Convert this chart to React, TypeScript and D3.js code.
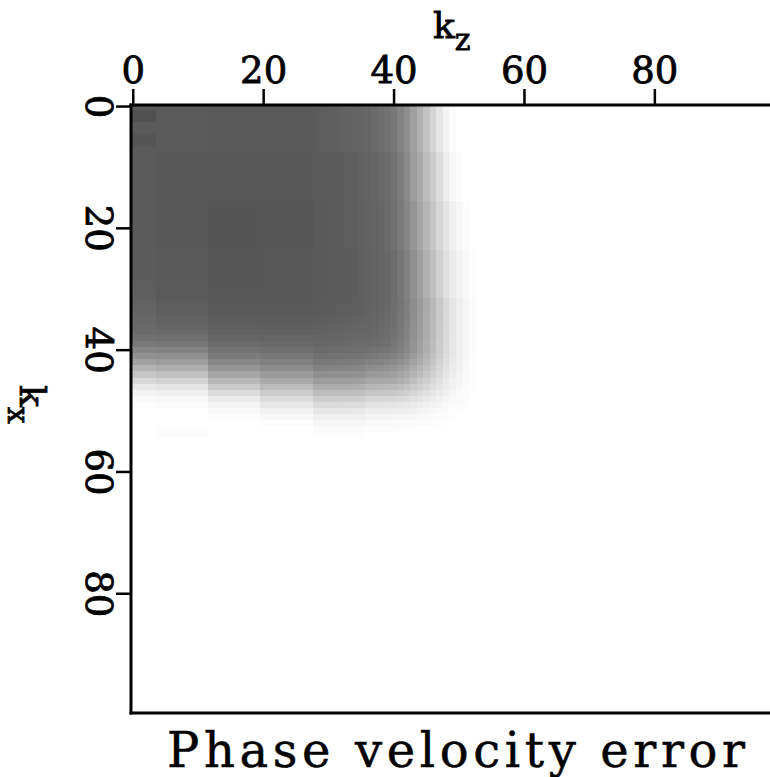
import React, { useMemo } from "react";
import * as d3 from "d3";

const W = 770;
const H = 777;

// axis ticks
const kzTicks = [0, 20, 40, 60, 80];
const kxTicks = [0, 20, 40, 60, 80];
const nKz = 100;
const nKx = 100;

// plateau grey levels (rows: kx blocks, cols: kz blocks)
const plateauKzStarts = [0, 4, 12, 20, 28];
const plateauKxStarts = [0, 8, 16, 24];
const plateauGray = [
  [0x5a, 0x5a, 0x59, 0x59, 0x5c],
  [0x5b, 0x58, 0x58, 0x58, 0x5a],
  [0x5b, 0x58, 0x55, 0x56, 0x59],
  [0x5c, 0x59, 0x56, 0x57, 0x59],
];

// right-edge fall-off, grey along kz = 28..55, one row per kx block of 8
const rightEdgeKz0 = 28;
const rightEdgeKxStarts = [0, 8, 16, 24, 32, 40, 48];
const rightEdgeGray = [
  [0x5c, 0x5d, 0x5e, 0x5f, 0x61, 0x62, 0x63, 0x64, 0x66, 0x6a, 0x6e, 0x72, 0x78, 0x83, 0x8f, 0xa0, 0xb2, 0xc3, 0xd5, 0xe6, 0xf3, 0xfb, 0xfe, 0xff, 0xff, 0xff, 0xff, 0xff],
  [0x5a, 0x5a, 0x5b, 0x5c, 0x5d, 0x5e, 0x5f, 0x61, 0x63, 0x66, 0x68, 0x6c, 0x72, 0x7c, 0x8a, 0x9c, 0xaa, 0xbc, 0xcc, 0xdc, 0xec, 0xf6, 0xfc, 0xff, 0xff, 0xff, 0xff, 0xff],
  [0x59, 0x59, 0x5a, 0x5b, 0x5c, 0x5d, 0x5e, 0x60, 0x62, 0x64, 0x66, 0x6a, 0x70, 0x7a, 0x86, 0x96, 0xa6, 0xb6, 0xc6, 0xd6, 0xe4, 0xef, 0xf7, 0xfc, 0xff, 0xff, 0xff, 0xff],
  [0x59, 0x59, 0x5a, 0x5a, 0x5b, 0x5c, 0x5d, 0x5f, 0x61, 0x63, 0x65, 0x68, 0x6d, 0x76, 0x82, 0x90, 0xa0, 0xb0, 0xc0, 0xd0, 0xdf, 0xea, 0xf3, 0xf9, 0xfd, 0xff, 0xff, 0xff],
  [0x59, 0x59, 0x5a, 0x5a, 0x5b, 0x5c, 0x5d, 0x5e, 0x60, 0x62, 0x64, 0x67, 0x6c, 0x74, 0x7e, 0x8c, 0x9a, 0xa8, 0xb8, 0xc8, 0xd8, 0xe4, 0xee, 0xf6, 0xfb, 0xfe, 0xff, 0xff],
  [0x59, 0x59, 0x5a, 0x5a, 0x5b, 0x5c, 0x5d, 0x5e, 0x60, 0x62, 0x64, 0x67, 0x6b, 0x72, 0x7c, 0x8a, 0x98, 0xa6, 0xb6, 0xc6, 0xd6, 0xe3, 0xed, 0xf5, 0xfb, 0xfe, 0xff, 0xff],
  [0x59, 0x59, 0x5a, 0x5a, 0x5b, 0x5c, 0x5d, 0x5e, 0x60, 0x62, 0x64, 0x67, 0x6b, 0x72, 0x7c, 0x8a, 0x98, 0xa6, 0xb6, 0xc6, 0xd6, 0xe3, 0xed, 0xf5, 0xfb, 0xfe, 0xff, 0xff],
];

// bottom-edge fall-off, grey along kx = 28..57, one row per kz block
const bottomEdgeKx0 = 28;
const bottomEdgeKzStarts = [0, 4, 12, 20, 28, 36, 44, 52];
const bottomEdgeGray = [
  [0x5d, 0x5e, 0x5f, 0x60, 0x62, 0x64, 0x66, 0x68, 0x6a, 0x6c, 0x72, 0x7a, 0x86, 0x92, 0xa2, 0xb4, 0xc6, 0xd8, 0xe8, 0xf4, 0xfa, 0xfd, 0xff, 0xff, 0xff, 0xff, 0xff, 0xff, 0xff, 0xff],
  [0x5a, 0x5b, 0x5b, 0x5b, 0x5d, 0x5f, 0x61, 0x63, 0x66, 0x6a, 0x70, 0x78, 0x84, 0x90, 0x9e, 0xae, 0xc0, 0xd2, 0xe4, 0xf0, 0xf8, 0xfc, 0xfe, 0xff, 0xff, 0xfd, 0xfc, 0xff, 0xff, 0xff],
  [0x57, 0x57, 0x58, 0x58, 0x59, 0x5a, 0x5c, 0x5e, 0x60, 0x63, 0x67, 0x6c, 0x74, 0x7c, 0x88, 0x96, 0xa6, 0xb8, 0xca, 0xdc, 0xea, 0xf4, 0xfa, 0xfd, 0xff, 0xff, 0xff, 0xff, 0xff, 0xff],
  [0x57, 0x57, 0x57, 0x57, 0x58, 0x59, 0x5a, 0x5c, 0x5e, 0x61, 0x65, 0x69, 0x6f, 0x77, 0x80, 0x8c, 0x9a, 0xaa, 0xbc, 0xcc, 0xdc, 0xe8, 0xf2, 0xf8, 0xfc, 0xff, 0xfe, 0xff, 0xff, 0xff],
  [0x59, 0x59, 0x59, 0x59, 0x5a, 0x5b, 0x5c, 0x5e, 0x60, 0x62, 0x64, 0x67, 0x6b, 0x71, 0x79, 0x83, 0x8f, 0x9d, 0xad, 0xbd, 0xcd, 0xdb, 0xe7, 0xf0, 0xf6, 0xfa, 0xfd, 0xff, 0xff, 0xff],
  [0x5c, 0x5c, 0x5c, 0x5c, 0x5d, 0x5e, 0x5f, 0x60, 0x61, 0x62, 0x64, 0x67, 0x6c, 0x74, 0x7e, 0x8a, 0x96, 0xa4, 0xb4, 0xc4, 0xd4, 0xe2, 0xec, 0xf4, 0xf9, 0xfc, 0xfe, 0xff, 0xff, 0xff],
  [0x5c, 0x5c, 0x5c, 0x5c, 0x5d, 0x5e, 0x5f, 0x60, 0x61, 0x62, 0x64, 0x67, 0x6c, 0x74, 0x7e, 0x8a, 0x98, 0xa6, 0xb6, 0xc6, 0xd6, 0xe3, 0xed, 0xf5, 0xfa, 0xfd, 0xff, 0xff, 0xff, 0xff],
  [0x5c, 0x5c, 0x5c, 0x5c, 0x5d, 0x5e, 0x5f, 0x60, 0x61, 0x62, 0x64, 0x67, 0x6c, 0x74, 0x7e, 0x8a, 0x98, 0xa6, 0xb6, 0xc6, 0xd6, 0xe3, 0xed, 0xf5, 0xfa, 0xfd, 0xff, 0xff, 0xff, 0xff],
];

// small darker patches near the origin
const spotKzRange = [[0, 3], [0, 3]];
const spotKxRange = [[1, 2], [5, 6]];
const spotGray = [0x50, 0x55];

function blockIndex(starts: number[], v: number) {
  let i = 0;
  for (let k = 0; k < starts.length; k++) if (starts[k] <= v) i = k;
  return i;
}

function cellGray(kz: number, kx: number): number {
  for (let s = 0; s < spotGray.length; s++) {
    if (kz >= spotKzRange[s][0] && kz <= spotKzRange[s][1] && kx >= spotKxRange[s][0] && kx <= spotKxRange[s][1]) return spotGray[s];
  }
  const base = plateauGray[blockIndex(plateauKxStarts, kx)][blockIndex(plateauKzStarts, kz)];
  const dP = (255 - base) / 170;
  let fR = 1;
  if (kz >= rightEdgeKz0) {
    const prof = rightEdgeGray[blockIndex(rightEdgeKxStarts, kx)];
    const i = kz - rightEdgeKz0;
    const g = i < prof.length ? prof[i] : 255;
    fR = (255 - g) / (255 - prof[0]);
  }
  let fB = 1;
  if (kx >= bottomEdgeKx0) {
    const prof = bottomEdgeGray[blockIndex(bottomEdgeKzStarts, kz)];
    const i = kx - bottomEdgeKx0;
    const g = i < prof.length ? prof[i] : 255;
    fB = (255 - g) / (255 - prof[0]);
  }
  return Math.round(255 - 170 * dP * fR * fB);
}

export default function App() {
  const x = d3.scaleLinear().domain([-0.5, nKz - 0.5]).range([130, 782]);
  const y = d3.scaleLinear().domain([-0.5, nKx - 0.5]).range([103.5, 712.5]);

  const cells = useMemo(() => {
    const out: { x: number; y: number; w: number; h: number; c: string }[] = [];
    for (let kx = 0; kx < nKx; kx++) {
      for (let kz = 0; kz < nKz; kz++) {
        const g = cellGray(kz, kx);
        if (g >= 254) continue;
        const x0 = Math.round(x(kz - 0.5));
        const x1 = Math.round(x(kz + 0.5));
        const y0 = Math.round(y(kx - 0.5));
        const y1 = Math.round(y(kx + 0.5));
        out.push({ x: x0, y: y0, w: x1 - x0, h: y1 - y0, c: d3.rgb(g, g, g).formatHex() });
      }
    }
    return out;
  }, []);

  const font = "'DejaVu Serif', serif";
  const top = 105;
  const left = 131;
  const bottom = 713;
  const heavy = { stroke: "#000", strokeWidth: 0.8 };

  return (
    <svg width={W} height={H} style={{ position: "absolute", left: 0, top: 0, background: "#fff" }}>
      <rect x={0} y={0} width={W} height={H} fill="#fff" />
      <g shapeRendering="crispEdges">
        {cells.map((c, i) => (
          <rect key={i} x={c.x} y={c.y} width={c.w} height={c.h} fill={c.c} />
        ))}
      </g>
      {/* frame */}
      <line x1={129.5} x2={W} y1={top} y2={top} stroke="#000" strokeWidth={3} />
      <line x1={left} x2={left} y1={103.5} y2={bottom + 1.5} stroke="#000" strokeWidth={3} />
      <line x1={129.5} x2={W} y1={bottom} y2={bottom} stroke="#000" strokeWidth={3} />
      {/* top axis */}
      {kzTicks.map((t) => (
        <g key={"kz" + t}>
          <line x1={x(t)} x2={x(t)} y1={89} y2={top} stroke="#000" strokeWidth={2.5} />
          <text x={x(t)} y={83} fontFamily={font} fontSize={37} textAnchor="middle" {...heavy}>{t}</text>
        </g>
      ))}
      {/* left axis */}
      {kxTicks.map((t) => (
        <g key={"kx" + t}>
          <line x1={116} x2={left} y1={y(t)} y2={y(t)} stroke="#000" strokeWidth={2.5} />
          <text transform={`translate(86,${y(t)}) rotate(90)`} fontFamily={font} fontSize={37} textAnchor="middle" {...heavy}>{t}</text>
        </g>
      ))}
      <text x={433} y={38} fontFamily={font} fontSize={36} {...heavy}>
        k<tspan fontSize={30} dy={12}>z</tspan>
      </text>
      <text transform={`translate(20,385) rotate(90)`} fontFamily={font} fontSize={36} {...heavy}>
        k<tspan fontSize={30} dy={12}>x</tspan>
      </text>
      <text x={167} y={767} fontFamily={font} fontSize={48} textLength={578} lengthAdjust="spacing" stroke="#000" strokeWidth={0.5}>
        Phase velocity error
      </text>
    </svg>
  );
}
